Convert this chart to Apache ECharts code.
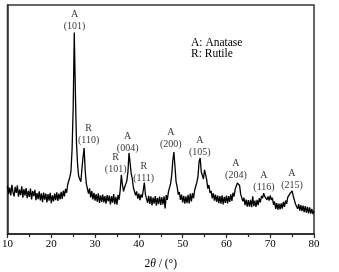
<!DOCTYPE html>
<html style="height: 100%">
<head>
<meta charset="utf-8">
<script src="https://cdn.jsdelivr.net/npm/echarts@6/dist/echarts.min.js"></script>
</head>
<body style="height: 100%; margin: 0; background: #fff">
<div id="container" style="width: 339px; height: 272px"></div>
<script type="text/javascript">
// XRD pattern, intensity in a.u., sampled every 0.25 deg from 10 to 80
var thetaStart = 10;
var thetaStep = 0.25;
var intensity = [
    21.0, 17.5, 20.3, 16.8,  21.5, 18.2, 16.4, 20.6,  17.9, 21.2, 16.3, 19.4,
    17.0, 20.8, 15.9, 19.6,  16.8, 20.1, 15.6, 18.9,  16.2, 19.8, 15.1, 18.7,
    16.5, 19.3, 14.8, 17.9,  15.2, 18.6, 14.7, 17.8,  13.9, 18.1, 15.0, 17.6,
    13.8, 17.4, 14.6, 18.0,  13.5, 16.9, 14.2, 17.7,  14.8, 18.2, 14.5, 17.6,
    15.1, 18.4, 15.3, 18.9,  16.4, 19.7, 18.0, 21.6,  20.8, 24.9, 27.5, 37.0,
    55.0, 88.0, 62.0, 40.0,  30.5, 25.2, 24.0, 22.8,  28.5, 33.5, 37.5, 27.5,
    22.0, 21.8, 17.6, 19.9,  16.0, 18.7, 15.1, 18.0,  14.6, 17.4, 14.1, 17.8,
    13.6, 16.9, 14.0, 17.2,  13.8, 16.6, 13.2, 17.0,  14.3, 16.8, 12.9, 16.5,
    13.7, 17.4, 13.0, 16.2,  12.8, 17.1, 15.0, 19.5,  25.8, 21.5, 18.6, 20.4,
    19.8, 23.2, 27.0, 35.4,  31.0, 26.4, 24.2, 20.2,  19.8, 16.9, 18.6, 15.4,
    17.6, 14.8, 17.3, 15.9,  19.0, 22.5, 17.2, 16.8,  13.6, 16.7, 13.1, 16.4,
    12.5, 15.9, 13.3, 16.6,  12.4, 15.8, 13.0, 16.3,  12.7, 16.0, 12.9, 16.5,
    11.2, 17.0, 14.9, 18.4,  18.2, 22.0, 25.6, 32.0,  35.8, 29.5, 22.8, 20.6,
    17.2, 18.3, 14.9, 17.2,  13.8, 16.7, 13.2, 16.4,  13.5, 17.1, 13.4, 17.6,
    14.2, 17.9, 15.6, 19.2,  18.4, 22.6, 25.0, 31.5,  33.2, 27.2, 25.6, 24.0,
    28.0, 25.8, 23.6, 19.8,  21.4, 17.9, 18.8, 15.6,  17.8, 14.6, 17.2, 14.0,
    16.8, 13.5, 16.6, 13.3,  16.9, 12.9, 16.2, 13.6,  16.8, 13.4, 16.5, 14.0,
    17.3, 14.5, 18.0, 16.4,  19.6, 19.4, 22.3, 22.7,  21.2, 17.4, 17.6, 14.3,
    15.8, 12.6, 15.0, 11.9,  14.8, 12.0, 14.9, 11.7,  16.5, 12.2, 14.6, 11.8,
    14.9, 12.6, 15.6, 13.8,  16.6, 15.6, 17.8, 16.4,  17.2, 14.9, 16.4, 14.6,
    16.8, 14.9, 15.8, 12.8,  14.2, 11.0, 13.5, 10.6,  13.3, 10.7, 13.4, 11.1,
    14.0, 11.8, 14.6, 13.2,  16.0, 15.4, 17.6, 17.4,  18.8, 16.6, 16.4, 13.2,
    14.0, 11.0, 13.0, 10.2,  12.6, 10.0, 12.4, 9.6,   12.2, 9.3, 11.8, 9.0,
    11.6, 8.9, 11.0, 8.7,    10.1
];

// peak labels: phase, Miller index, label centre (2theta, intensity)
var peakPhase = ['A', 'R', 'R', 'A', 'R', 'A', 'A', 'A', 'A', 'A'];
var peakHkl = ['(101)', '(110)', '(101)', '(004)', '(111)', '(200)', '(105)', '(204)', '(116)', '(215)'];
var peakLabelX = [25.33, 28.53, 34.71, 37.45, 41.11, 47.29, 53.93, 62.16, 68.57, 74.97];
var peakLabelY = [93.4, 43.7, 31.0, 40.2, 27.1, 41.9, 38.4, 28.4, 23.1, 23.8];

var xTicks = [10, 20, 30, 40, 50, 60, 70, 80];

var serif = '"Liberation Serif", "DejaVu Serif", serif';

var pattern = [];
for (var i = 0; i < intensity.length; i++) {
    pattern.push([thetaStart + i * thetaStep, intensity[i]]);
}

var labels = [];
for (var j = 0; j < peakLabelX.length; j++) {
    labels.push({ value: [peakLabelX[j], peakLabelY[j]], name: peakPhase[j] + '\n' + peakHkl[j] });
}

var myChart = echarts.init(document.getElementById('container'), null, { renderer: 'canvas' });

var option = {
    animation: false,
    backgroundColor: '#fff',
    title: {
        text: 'A: Anatase\nR: Rutile',
        left: 191,
        top: 37,
        padding: 0,
        textStyle: {
            fontFamily: serif,
            fontSize: 11.5,
            fontWeight: 'normal',
            color: '#000',
            lineHeight: 11
        }
    },
    grid: {
        left: 7.5,
        right: 25,
        top: 5,
        bottom: 38,
        containLabel: false,
        outerBoundsMode: 'none',
        show: true,
        borderColor: '#333',
        borderWidth: 1.5
    },
    xAxis: {
        type: 'value',
        min: xTicks[0],
        max: xTicks[xTicks.length - 1],
        interval: 10,
        name: '2{i|θ} / (°)',
        nameLocation: 'middle',
        nameGap: 24,
        nameTextStyle: {
            fontFamily: serif,
            fontSize: 11.5,
            color: '#000',
            rich: {
                i: { fontFamily: serif, fontSize: 11.5, fontStyle: 'italic', color: '#000' }
            }
        },
        axisLine: { onZero: false, lineStyle: { color: '#222', width: 1.5 } },
        axisTick: { show: true, inside: false, length: 4, lineStyle: { color: '#222', width: 1.2 } },
        minorTick: { show: true, splitNumber: 2, length: 3, lineStyle: { color: '#222', width: 1.2 } },
        axisLabel: { fontFamily: serif, fontSize: 11, color: '#000', margin: 5 },
        splitLine: { show: false }
    },
    yAxis: {
        type: 'value',
        min: 0,
        max: 100,
        axisLine: { show: true, lineStyle: { color: '#333', width: 1.5 } },
        axisTick: { show: false },
        axisLabel: { show: false },
        splitLine: { show: false }
    },
    series: [
        {
            name: 'XRD',
            type: 'line',
            data: pattern,
            showSymbol: false,
            symbol: 'none',
            lineStyle: { color: '#000', width: 1.3 },
            z: 2
        },
        {
            name: 'peaks',
            type: 'scatter',
            data: labels,
            symbolSize: 0,
            label: {
                show: true,
                position: 'inside',
                formatter: '{b}',
                fontFamily: serif,
                fontSize: 10,
                lineHeight: 12,
                color: '#000',
                align: 'center'
            },
            z: 3
        }
    ]
};

myChart.setOption(option, true);
</script>
</body>
</html>
